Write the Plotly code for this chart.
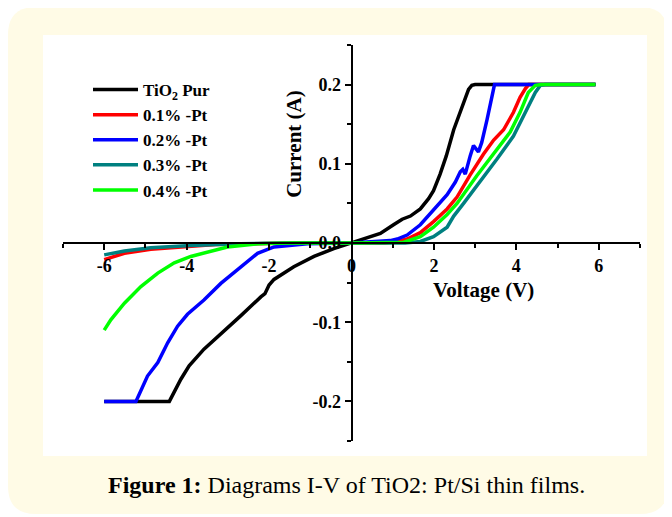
import plotly.graph_objects as go

# page body has an 8px margin; the figure is sized to fill the rest of the window
OX, OY = 8, 8
W, H = 672 - OX, 517 - OY

# ---------------- data ----------------
names = ["TiO<sub>2</sub> Pur", "0.1% -Pt", "0.2% -Pt", "0.3% -Pt", "0.4% -Pt"]
colors = ["#000000", "#FF0000", "#0000FF", "#008080", "#00FF00"]

x_pur = [-6.0, -5.6, -5.27, -5.0, -4.7, -4.42, -4.14, -3.94, -3.58, -3.17, -2.69, -2.2, -2.1, -2.0,
         -1.88, -1.40, -0.91, -0.43, 0.0, 0.22, 0.38, 0.70, 1.02, 1.23, 1.43, 1.67, 1.87, 1.99, 2.15,
         2.30, 2.48, 2.60, 2.72, 2.84, 2.92, 3.0, 3.5, 4.5, 5.5, 5.92]
y_pur = [-0.200, -0.200, -0.200, -0.201, -0.200, -0.200, -0.172, -0.155, -0.134, -0.115, -0.092, -0.068,
         -0.064, -0.053, -0.046, -0.030, -0.017, -0.007, 0.0, 0.004, 0.006, 0.012, 0.023, 0.030, 0.034,
         0.043, 0.056, 0.066, 0.087, 0.110, 0.143, 0.160, 0.177, 0.194, 0.199, 0.200, 0.200, 0.200,
         0.200, 0.200]

x_pt01 = [-6.0, -5.51, -4.87, -4.14, -3.3, -2.5, -1.5, 0.0, 0.8, 1.11, 1.35, 1.67, 1.99, 2.32, 2.56,
          2.88, 3.2, 3.45, 3.69, 3.93, 4.09, 4.22, 4.3, 5.0, 5.92]
y_pt01 = [-0.021, -0.013, -0.008, -0.005, -0.002, -0.001, 0.0, 0.0, 0.0, 0.002, 0.005, 0.013, 0.027,
          0.043, 0.058, 0.086, 0.112, 0.130, 0.143, 0.165, 0.184, 0.195, 0.200, 0.200, 0.200]

x_pt02 = [-6.0, -5.6, -5.23, -4.95, -4.70, -4.46, -4.22, -3.98, -3.58, -3.17, -2.69, -2.28, -1.88,
          -1.07, 0.0, 0.78, 0.94, 1.11, 1.35, 1.67, 1.99, 2.32, 2.52, 2.64, 2.70, 2.76, 2.88, 2.96,
          3.08, 3.16, 3.29, 3.41, 3.47, 4.0, 5.0, 5.92]
y_pt02 = [-0.200, -0.200, -0.200, -0.168, -0.151, -0.126, -0.105, -0.090, -0.072, -0.051, -0.030,
          -0.013, -0.005, -0.001, 0.0, 0.002, 0.003, 0.005, 0.010, 0.023, 0.041, 0.061, 0.077, 0.090,
          0.093, 0.087, 0.110, 0.123, 0.115, 0.127, 0.156, 0.186, 0.200, 0.200, 0.200, 0.200]

x_pt03 = [-6.0, -5.51, -4.87, -3.9, -2.7, -1.5, 0.0, 1.3, 1.67, 1.99, 2.32, 2.48, 2.72, 3.12, 3.53,
          3.93, 4.25, 4.46, 4.58, 4.7, 5.92]
y_pt03 = [-0.015, -0.010, -0.006, -0.003, -0.001, 0.0, 0.0, 0.0, 0.002, 0.008, 0.020, 0.034, 0.050,
          0.077, 0.106, 0.135, 0.169, 0.190, 0.199, 0.200, 0.200]

x_pt04 = [-6.0, -5.84, -5.51, -5.11, -4.70, -4.30, -3.90, -3.49, -3.01, -2.28, -1.5, 0.0, 1.0, 1.27,
          1.67, 1.99, 2.32, 2.56, 3.04, 3.53, 3.85, 4.09, 4.29, 4.46, 4.6, 5.92]
y_pt04 = [-0.110, -0.097, -0.076, -0.055, -0.038, -0.025, -0.017, -0.011, -0.005, -0.001, 0.0, 0.0,
          0.0, 0.001, 0.008, 0.020, 0.036, 0.050, 0.085, 0.119, 0.140, 0.165, 0.190, 0.199, 0.200, 0.200]

xs = [x_pur, x_pt01, x_pt02, x_pt03, x_pt04]
ys = [y_pur, y_pt01, y_pt02, y_pt03, y_pt04]

x_ticks = [-6, -4, -2, 0, 2, 4, 6]
x_ticktext = ["-6", "-4", "-2", "0", "2", "4", "6"]
y_ticks = [-0.2, -0.1, 0.0, 0.1, 0.2]
y_ticktext = ["-0.2", "-0.1", "0.0", "0.1", "0.2"]

x_title = "Voltage (V)"
y_title = "Current (A)"
caption = "<b>Figure 1:</b> Diagrams I-V of TiO2: Pt/Si thin films."

# ---------------- figure ----------------
SERIF = "Liberation Serif, Times New Roman, serif"

fig = go.Figure()
for x, y, n, c in zip(xs, ys, names, colors):
    fig.add_trace(go.Scatter(x=x, y=y, mode="lines", name=n,
                             line=dict(color=c, width=3.5)))

def px(xp):
    return (xp - OX) / W

def py(yp):
    return 1 - (yp - OY) / H

xdom = [px(63), px(640)]
ydom = [py(441), py(45)]

def rounded_path(x0, y0, x1, y1, r):
    return (f"M {px(x0 + r)},{py(y0)} L {px(x1 - r)},{py(y0)} "
            f"Q {px(x1)},{py(y0)} {px(x1)},{py(y0 + r)} L {px(x1)},{py(y1 - r)} "
            f"Q {px(x1)},{py(y1)} {px(x1 - r)},{py(y1)} L {px(x0 + r)},{py(y1)} "
            f"Q {px(x0)},{py(y1)} {px(x0)},{py(y1 - r)} L {px(x0)},{py(y0 + r)} "
            f"Q {px(x0)},{py(y0)} {px(x0 + r)},{py(y0)} Z")

shapes = [
    dict(type="path", xref="paper", yref="paper", path=rounded_path(8, 7, 668, 514, 28),
         fillcolor="#FFFBE6", line=dict(width=0), layer="below"),
    dict(type="rect", xref="paper", yref="paper", x0=px(43), x1=px(647), y0=py(456), y1=py(35),
         fillcolor="#FFFFFF", line=dict(width=0), layer="below"),
]

tickfont = dict(family=SERIF, size=18, color="black", weight="bold")

fig.update_layout(
    width=W, height=H,
    margin=dict(l=0, r=0, t=0, b=0),
    paper_bgcolor="white",
    plot_bgcolor="rgba(0,0,0,0)",
    shapes=shapes,
    showlegend=True,
    legend=dict(x=px(88), y=py(72), xanchor="left", yanchor="top",
                bgcolor="rgba(0,0,0,0)", borderwidth=0,
                font=dict(family=SERIF, size=17, color="black", weight="bold"),
                itemwidth=45, tracegroupgap=0),
    xaxis=dict(domain=xdom, range=[-7, 7], anchor="free", position=(ydom[0] + ydom[1]) / 2,
               showline=True, linecolor="black", linewidth=2, showgrid=False, zeroline=False,
               ticks="outside", ticklen=6, tickwidth=2, tickcolor="black",
               tickvals=x_ticks, ticktext=x_ticktext, tickfont=tickfont,
               minor=dict(dtick=1, tick0=1, ticks="outside", ticklen=4, tickwidth=2,
                          tickcolor="black", showgrid=False)),
    yaxis=dict(domain=ydom, range=[-0.25, 0.25], anchor="free", position=(xdom[0] + xdom[1]) / 2,
               showline=True, linecolor="black", linewidth=2, showgrid=False, zeroline=False,
               ticks="outside", ticklen=6, tickwidth=2, tickcolor="black",
               tickvals=y_ticks, ticktext=y_ticktext, tickfont=tickfont,
               minor=dict(dtick=0.05, tick0=0.05, ticks="outside", ticklen=4, tickwidth=2,
                          tickcolor="black", showgrid=False)),
    annotations=[
        dict(text=x_title, xref="x", yref="y", x=3.2, y=-0.059, showarrow=False,
             font=dict(family=SERIF, size=21, color="black", weight="bold")),
        dict(text=y_title, xref="x", yref="y", x=-1.40, y=0.125, showarrow=False, textangle=-90,
             font=dict(family=SERIF, size=21, color="black", weight="bold")),
        dict(text=caption, xref="paper", yref="paper", x=px(346), y=py(485), showarrow=False,
             xanchor="center", yanchor="middle",
             font=dict(family=SERIF, size=24, color="black")),
    ],
)

fig.write_html("out.html")
